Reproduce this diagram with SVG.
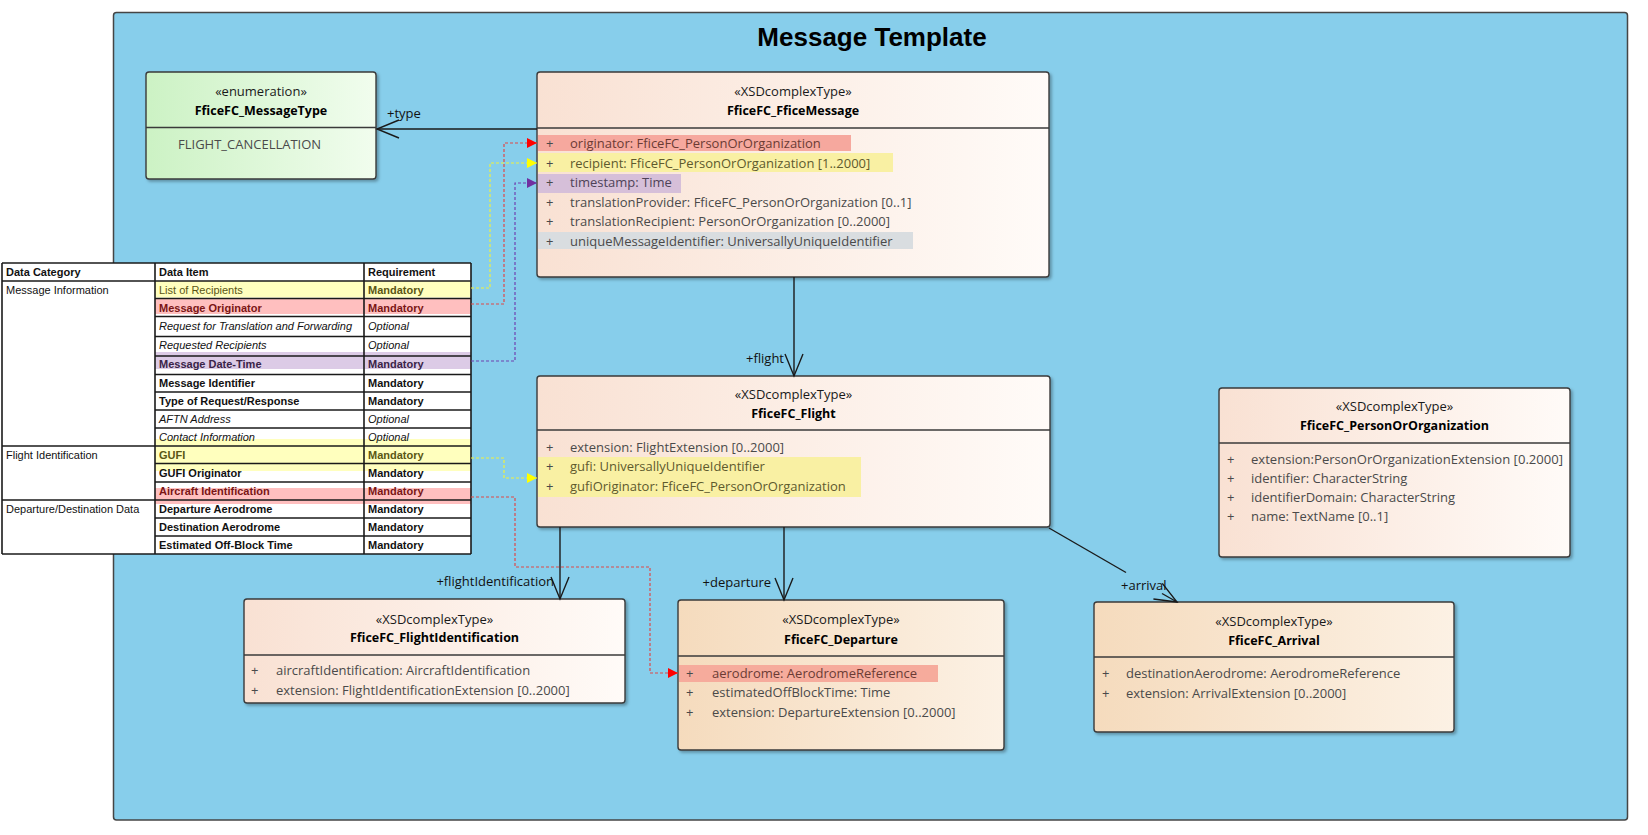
<svg xmlns="http://www.w3.org/2000/svg" width="1648" height="835" viewBox="0 0 1648 835">
<style>
.frame{fill:#87ceeb;stroke:#454545;stroke-width:1.5}
.box{stroke:#3a3a3a;stroke-width:1.4}
.div{stroke:#3a3a3a;stroke-width:1.4}
.st{font-family:"Open Sans","Liberation Sans",sans-serif;font-size:13px;fill:#1a1a1a;text-anchor:middle}
.nm{font-family:"Open Sans","Liberation Sans",sans-serif;font-size:12.5px;font-weight:bold;fill:#000;text-anchor:middle}
.at{font-family:"Open Sans","Liberation Sans",sans-serif;font-size:13px;fill:#4a4a4a}
.lb{font-family:"Open Sans","Liberation Sans",sans-serif;font-size:13px;fill:#111}
.conn{fill:none;stroke:#1a1a1a;stroke-width:1.4}
.dash{fill:none;stroke-width:1.2;stroke-dasharray:3 2}
.tt{font-family:"Liberation Sans",Arial,sans-serif;font-size:11px;fill:#111}
.tb{font-weight:bold}
.ti{font-style:italic}
.tl{stroke:#1a1a1a;stroke-width:1.6}
</style>
<defs>
<linearGradient id="gPeach" x1="0" y1="0" x2="1" y2="0">
<stop offset="0" stop-color="#f9e1d3"/><stop offset="1" stop-color="#fffbf8"/>
</linearGradient>
<linearGradient id="gTan" x1="0" y1="0" x2="1" y2="0">
<stop offset="0" stop-color="#f5dbbd"/><stop offset="1" stop-color="#fcf1e4"/>
</linearGradient>
<linearGradient id="gGreen" x1="0" y1="0" x2="1" y2="0">
<stop offset="0" stop-color="#ccf2c4"/><stop offset="1" stop-color="#f1fdee"/>
</linearGradient>
<filter id="sh" x="-5%" y="-5%" width="110%" height="115%">
<feDropShadow dx="2" dy="2" stdDeviation="1.5" flood-color="#000" flood-opacity="0.3"/>
</filter>
<marker id="open" viewBox="-24 -11 26 22" refX="0" refY="0" markerWidth="26" markerHeight="22" markerUnits="userSpaceOnUse" orient="auto">
<path d="M-22,-9 L0,0 L-22,9" fill="none" stroke="#1a1a1a" stroke-width="1.4"/>
</marker>
<marker id="tRed" viewBox="0 0 10 10" refX="10" refY="5" markerWidth="10" markerHeight="10" markerUnits="userSpaceOnUse" orient="auto">
<path d="M0,0 L10,5 L0,10 z" fill="#ff0000"/>
</marker>
<marker id="tYel" viewBox="0 0 10 10" refX="10" refY="5" markerWidth="10" markerHeight="10" markerUnits="userSpaceOnUse" orient="auto">
<path d="M0,0 L10,5 L0,10 z" fill="#ffff00"/>
</marker>
<marker id="tPur" viewBox="0 0 10 10" refX="10" refY="5" markerWidth="10" markerHeight="10" markerUnits="userSpaceOnUse" orient="auto">
<path d="M0,0 L10,5 L0,10 z" fill="#7030a0"/>
</marker>
</defs>

<rect width="1648" height="835" fill="#ffffff"/>

<g id="frame">
<rect class="frame" x="113.5" y="12.5" width="1514" height="807.5" rx="3"/>
<text x="872" y="46" text-anchor="middle" font-family="'Liberation Sans',Arial,sans-serif" font-size="26" font-weight="bold" fill="#000">Message Template</text>
</g>

<g id="enum-messagetype">
<rect class="box" x="146" y="72" width="230" height="107" rx="3" fill="url(#gGreen)" filter="url(#sh)"/>
<line class="div" x1="146" y1="127.5" x2="376" y2="127.5"/>
<text class="st" x="261" y="96">«enumeration»</text>
<text class="nm" x="261" y="115">FficeFC_MessageType</text>
<text class="at" x="178" y="148.5" fill="#555">FLIGHT_CANCELLATION</text>
</g>

<g id="fficemessage">
<rect class="box" x="537" y="72" width="512" height="205" rx="3" fill="url(#gPeach)" filter="url(#sh)"/>
<line class="div" x1="537" y1="128" x2="1049" y2="128"/>
<rect x="538" y="135" width="313" height="16" fill="#f6a89e"/>
<rect x="538" y="153" width="355" height="19" fill="#f9f0a3"/>
<rect x="538" y="174" width="143" height="19" fill="#d6bfd9"/>
<rect x="538" y="232" width="375" height="17" fill="#d9dde0"/>
<text class="st" x="793" y="96">«XSDcomplexType»</text>
<text class="nm" x="793" y="115">FficeFC_FficeMessage</text>
<g class="at">
<text x="546" y="148">+</text><text x="570" y="148" fill="#6b3b34">originator: FficeFC_PersonOrOrganization</text>
<text x="546" y="167.5">+</text><text x="570" y="167.5" fill="#5e5a2e">recipient: FficeFC_PersonOrOrganization [1..2000]</text>
<text x="546" y="187">+</text><text x="570" y="187" fill="#4e4258">timestamp: Time</text>
<text x="546" y="206.5">+</text><text x="570" y="206.5">translationProvider: FficeFC_PersonOrOrganization [0..1]</text>
<text x="546" y="226">+</text><text x="570" y="226">translationRecipient: PersonOrOrganization [0..2000]</text>
<text x="546" y="245.5">+</text><text x="570" y="245.5">uniqueMessageIdentifier: UniversallyUniqueIdentifier</text>
</g>
</g>

<g id="flight">
<rect class="box" x="537" y="376" width="513" height="151" rx="3" fill="url(#gPeach)" filter="url(#sh)"/>
<line class="div" x1="537" y1="430" x2="1050" y2="430"/>
<rect x="538" y="457" width="323" height="40" fill="#f9f0a3"/>
<text class="st" x="793.5" y="398.5">«XSDcomplexType»</text>
<text class="nm" x="793.5" y="417.5">FficeFC_Flight</text>
<g class="at">
<text x="546" y="451.5">+</text><text x="570" y="451.5">extension: FlightExtension [0..2000]</text>
<text x="546" y="471">+</text><text x="570" y="471" fill="#5e5a2e">gufi: UniversallyUniqueIdentifier</text>
<text x="546" y="490.5">+</text><text x="570" y="490.5" fill="#5e5a2e">gufiOriginator: FficeFC_PersonOrOrganization</text>
</g>
</g>

<g id="personororganization">
<rect class="box" x="1219" y="388" width="351" height="169" rx="3" fill="url(#gPeach)" filter="url(#sh)"/>
<line class="div" x1="1219" y1="443" x2="1570" y2="443"/>
<text class="st" x="1394.5" y="411">«XSDcomplexType»</text>
<text class="nm" x="1394.5" y="430">FficeFC_PersonOrOrganization</text>
<g class="at">
<text x="1227" y="463.5">+</text><text x="1251" y="463.5" textLength="312" lengthAdjust="spacingAndGlyphs">extension:PersonOrOrganizationExtension [0.2000]</text>
<text x="1227" y="483">+</text><text x="1251" y="483">identifier: CharacterString</text>
<text x="1227" y="502">+</text><text x="1251" y="502">identifierDomain: CharacterString</text>
<text x="1227" y="521">+</text><text x="1251" y="521">name: TextName [0..1]</text>
</g>
</g>

<g id="flightidentification">
<rect class="box" x="244" y="599" width="381" height="104" rx="3" fill="url(#gPeach)" filter="url(#sh)"/>
<line class="div" x1="244" y1="655" x2="625" y2="655"/>
<text class="st" x="434.5" y="623.5">«XSDcomplexType»</text>
<text class="nm" x="434.5" y="641.5">FficeFC_FlightIdentification</text>
<g class="at">
<text x="251" y="674.5">+</text><text x="276" y="674.5">aircraftIdentification: AircraftIdentification</text>
<text x="251" y="694.5">+</text><text x="276" y="694.5">extension: FlightIdentificationExtension [0..2000]</text>
</g>
</g>

<g id="departure">
<rect class="box" x="678" y="600" width="326" height="150" rx="3" fill="url(#gTan)" filter="url(#sh)"/>
<line class="div" x1="678" y1="656" x2="1004" y2="656"/>
<rect x="679" y="665" width="259" height="17" fill="#f6ab9c"/>
<text class="st" x="841" y="623.5">«XSDcomplexType»</text>
<text class="nm" x="841" y="643.5">FficeFC_Departure</text>
<g class="at">
<text x="686" y="677.5">+</text><text x="712" y="677.5" fill="#6b3b34">aerodrome: AerodromeReference</text>
<text x="686" y="697">+</text><text x="712" y="697">estimatedOffBlockTime: Time</text>
<text x="686" y="716.5">+</text><text x="712" y="716.5">extension: DepartureExtension [0..2000]</text>
</g>
</g>

<g id="arrival">
<rect class="box" x="1094" y="602" width="360" height="130" rx="3" fill="url(#gTan)" filter="url(#sh)"/>
<line class="div" x1="1094" y1="657" x2="1454" y2="657"/>
<text class="st" x="1274" y="625.5">«XSDcomplexType»</text>
<text class="nm" x="1274" y="644.5">FficeFC_Arrival</text>
<g class="at">
<text x="1102" y="678">+</text><text x="1126" y="678">destinationAerodrome: AerodromeReference</text>
<text x="1102" y="697.5">+</text><text x="1126" y="697.5">extension: ArrivalExtension [0..2000]</text>
</g>
</g>

<g id="requirements-table">
<rect x="2" y="263" width="469" height="291" fill="#ffffff"/>
<rect x="155" y="281" width="316" height="16.5" fill="#ffffbe"/>
<rect x="155" y="298.5" width="316" height="15.5" fill="#ffbfbf"/>
<rect x="155" y="352" width="316" height="17" fill="#dccbe6"/>
<rect x="155" y="439" width="316" height="32" fill="#ffffbe"/>
<rect x="155" y="488" width="316" height="16" fill="#ffbfbf"/>
<g class="tl">
<line x1="2" y1="263" x2="471" y2="263"/>
<line x1="2" y1="281" x2="471" y2="281"/>
<line x1="155" y1="298.5" x2="471" y2="298.5"/>
<line x1="155" y1="316.5" x2="471" y2="316.5"/>
<line x1="155" y1="336.5" x2="471" y2="336.5"/>
<line x1="155" y1="356" x2="471" y2="356"/>
<line x1="155" y1="374.5" x2="471" y2="374.5"/>
<line x1="155" y1="392" x2="471" y2="392"/>
<line x1="155" y1="410" x2="471" y2="410"/>
<line x1="155" y1="428" x2="471" y2="428"/>
<line x1="2" y1="446" x2="471" y2="446"/>
<line x1="155" y1="463.5" x2="471" y2="463.5"/>
<line x1="155" y1="482" x2="471" y2="482"/>
<line x1="2" y1="500" x2="471" y2="500"/>
<line x1="155" y1="518" x2="471" y2="518"/>
<line x1="155" y1="536" x2="471" y2="536"/>
<line x1="2" y1="554" x2="471" y2="554"/>
<line x1="2" y1="263" x2="2" y2="554"/>
<line x1="155" y1="263" x2="155" y2="554"/>
<line x1="364" y1="263" x2="364" y2="554"/>
<line x1="471" y1="263" x2="471" y2="554"/>
</g>
<g class="tt">
<text x="6" y="276" class="tb">Data Category</text>
<text x="159" y="276" class="tb">Data Item</text>
<text x="368" y="276" class="tb">Requirement</text>
<text x="6" y="294">Message Information</text>
<text x="6" y="459">Flight Identification</text>
<text x="6" y="513">Departure/Destination Data</text>
<text x="159" y="294" fill="#5a5614">List of Recipients</text><text x="368" y="294" fill="#5a5614" class="tb">Mandatory</text>
<text x="159" y="311.5" fill="#7a1515" class="tb">Message Originator</text><text x="368" y="311.5" fill="#7a1515" class="tb">Mandatory</text>
<text x="159" y="330" class="ti">Request for Translation and Forwarding</text><text x="368" y="330" class="ti">Optional</text>
<text x="159" y="349" class="ti">Requested Recipients</text><text x="368" y="349" class="ti">Optional</text>
<text x="159" y="368" fill="#3a2448" class="tb">Message Date-Time</text><text x="368" y="368" fill="#3a2448" class="tb">Mandatory</text>
<text x="159" y="387" class="tb">Message Identifier</text><text x="368" y="387" class="tb">Mandatory</text>
<text x="159" y="405" class="tb">Type of Request/Response</text><text x="368" y="405" class="tb">Mandatory</text>
<text x="159" y="423" class="ti">AFTN Address</text><text x="368" y="423" class="ti">Optional</text>
<text x="159" y="441" class="ti">Contact Information</text><text x="368" y="441" class="ti">Optional</text>
<text x="159" y="459" fill="#5a5614" class="tb">GUFI</text><text x="368" y="459" fill="#5a5614" class="tb">Mandatory</text>
<text x="159" y="477" class="tb">GUFI Originator</text><text x="368" y="477" class="tb">Mandatory</text>
<text x="159" y="495" fill="#7a1515" class="tb">Aircraft Identification</text><text x="368" y="495" fill="#7a1515" class="tb">Mandatory</text>
<text x="159" y="513" class="tb">Departure Aerodrome</text><text x="368" y="513" class="tb">Mandatory</text>
<text x="159" y="531" class="tb">Destination Aerodrome</text><text x="368" y="531" class="tb">Mandatory</text>
<text x="159" y="549" class="tb">Estimated Off-Block Time</text><text x="368" y="549" class="tb">Mandatory</text>
</g>
</g>

<g id="connectors">
<path class="conn" d="M537,129 L377,129" marker-end="url(#open)"/>
<path class="conn" d="M794,277 L794,376" marker-end="url(#open)"/>
<path class="conn" d="M560,527 L560,599" marker-end="url(#open)"/>
<path class="conn" d="M784,527 L784,600" marker-end="url(#open)"/>
<path class="conn" d="M1049,528 L1126,572.5"/>
<path class="conn" d="M1162,593.5 L1177,602" marker-end="url(#open)"/>
<text class="lb" x="387" y="118">+type</text>
<text class="lb" x="784" y="363" text-anchor="end">+flight</text>
<text class="lb" x="554" y="586" text-anchor="end">+flightIdentification</text>
<text class="lb" x="771" y="587" text-anchor="end">+departure</text>
<text class="lb" x="1121" y="590">+arrival</text>
<path class="dash" stroke="#f0f040" d="M471,288 L490,288 L490,163 L537,163" marker-end="url(#tYel)"/>
<path class="dash" stroke="#e04848" d="M471,304 L504,304 L504,143 L537,143" marker-end="url(#tRed)"/>
<path class="dash" stroke="#7040b0" d="M471,361 L515,361 L515,183 L537,183" marker-end="url(#tPur)"/>
<path class="dash" stroke="#f0f040" d="M471,458 L504,458 L504,478 L537,478" marker-end="url(#tYel)"/>
<path class="dash" stroke="#e04848" d="M471,497 L515,497 L515,567 L650,567 L650,673 L678,673" marker-end="url(#tRed)"/>
</g>
</svg>
